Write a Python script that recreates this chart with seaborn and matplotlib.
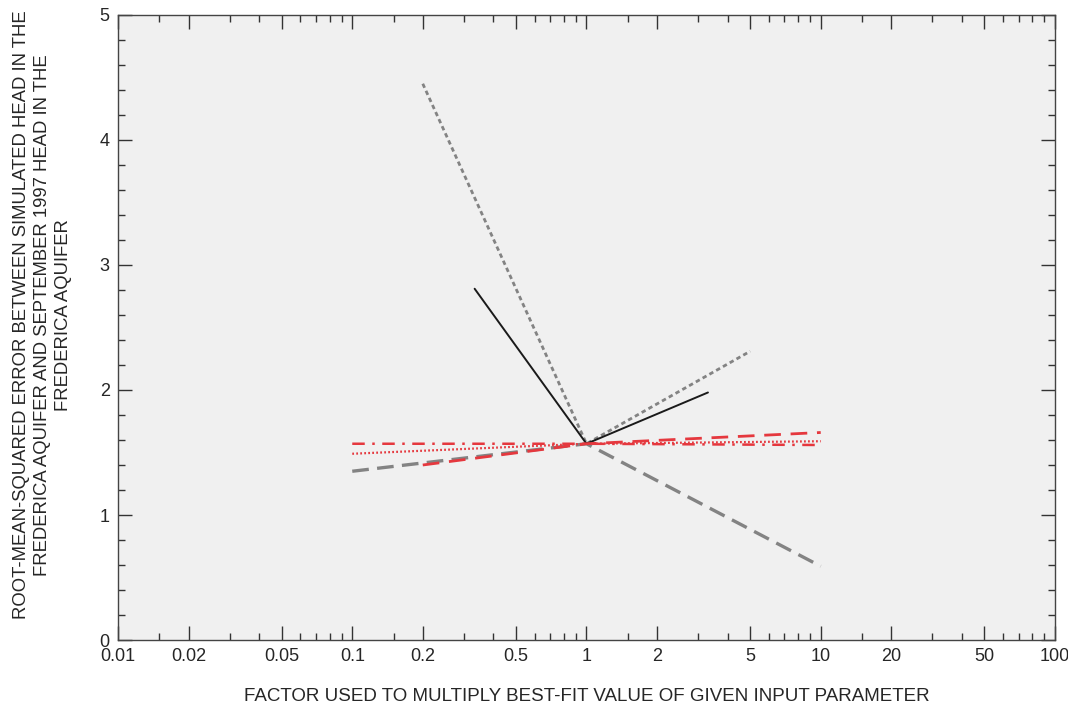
import numpy as np
import pandas as pd
import matplotlib
matplotlib.use("Agg")
import matplotlib.pyplot as plt
import seaborn as sns
from matplotlib.ticker import FixedLocator, MultipleLocator, FixedFormatter, NullFormatter

################################################################
# data:
x_gray_short = [0.2, 1, 5]
y_gray_short = [4.45, 1.57, 2.31]

x_black = [0.333, 1, 3.3]
y_black = [2.81, 1.57, 1.98]

x_gray_long = [0.1, 1, 10]
y_gray_long = [1.35, 1.57, 0.59]

x_red_dash = [0.2, 1, 10]
y_red_dash = [1.40, 1.57, 1.66]

x_red_dashdot = [0.1, 1, 10]
y_red_dashdot = [1.57, 1.57, 1.56]

x_red_dot = [0.1, 1, 10]
y_red_dot = [1.49, 1.57, 1.59]

xtick_vals = [0.01, 0.02, 0.05, 0.1, 0.2, 0.5, 1, 2, 5, 10, 20, 50, 100]
xtick_labels = ['0.01', '0.02', '0.05', '0.1', '0.2', '0.5', '1', '2', '5', '10', '20', '50', '100']

################################################################
# plot:
sns.set_style('ticks')
plt.rcParams['font.family'] = ['Liberation Sans', 'DejaVu Sans']

fig = plt.figure(figsize=(10.68, 7.03), dpi=100)
ax = fig.add_axes([0.1105, 0.0896, 0.8773, 0.8891])
ax.set_facecolor('#f0f0f0')

gray = '#838383'
red = '#e5383e'

sns.lineplot(x=x_gray_long, y=y_gray_long, ax=ax, color=gray, lw=2.4,
             linestyle=(0, (5, 2.5)), sort=False)
sns.lineplot(x=x_gray_short, y=y_gray_short, ax=ax, color=gray, lw=2.0,
             linestyle=(0, (1.6, 1.2)), sort=False)
sns.lineplot(x=x_black, y=y_black, ax=ax, color='#1a1a1a', lw=1.4, sort=False)
sns.lineplot(x=x_red_dash, y=y_red_dash, ax=ax, color=red, lw=2.0,
             linestyle=(0, (6, 3.5)), sort=False)
sns.lineplot(x=x_red_dashdot, y=y_red_dashdot, ax=ax, color=red, lw=1.8,
             linestyle=(0, (5, 3, 1, 3)), sort=False)
sns.lineplot(x=x_red_dot, y=y_red_dot, ax=ax, color=red, lw=1.6,
             linestyle=(0, (0.8, 1.0)), sort=False)

ax.set_xscale('log')
ax.set_xlim(0.01, 100)
ax.set_ylim(0, 5)
ax.xaxis.set_major_locator(FixedLocator(xtick_vals))
ax.xaxis.set_major_formatter(FixedFormatter(xtick_labels))
minor_x = [m * 10.0 ** e for e in range(-2, 2) for m in (3, 4, 6, 7, 8, 9)] + [0.015, 0.15, 1.5, 15]
ax.xaxis.set_minor_locator(FixedLocator(minor_x))
ax.xaxis.set_minor_formatter(NullFormatter())
ax.yaxis.set_major_locator(MultipleLocator(1))
ax.yaxis.set_minor_locator(MultipleLocator(0.2))

ax.tick_params(which='both', direction='in', top=True, right=True, color='#333333', width=1)
ax.tick_params(which='major', length=10, labelsize=13, pad=6)
ax.tick_params(which='minor', length=5)
for s in ax.spines.values():
    s.set_color('#444444')
    s.set_linewidth(1)

ax.set_xlabel('FACTOR USED TO MULTIPLY BEST-FIT VALUE OF GIVEN INPUT PARAMETER',
              fontsize=13.5, labelpad=16)
ax.set_ylabel('ROOT-MEAN-SQUARED ERROR BETWEEN SIMULATED HEAD IN THE\n'
              'FREDERICA AQUIFER AND SEPTEMBER 1997 HEAD IN THE\n'
              'FREDERICA AQUIFER', fontsize=13.3, linespacing=1.3)
ax.yaxis.set_label_coords(-0.049, 0.52)

fig.savefig('out.png', dpi=100)
